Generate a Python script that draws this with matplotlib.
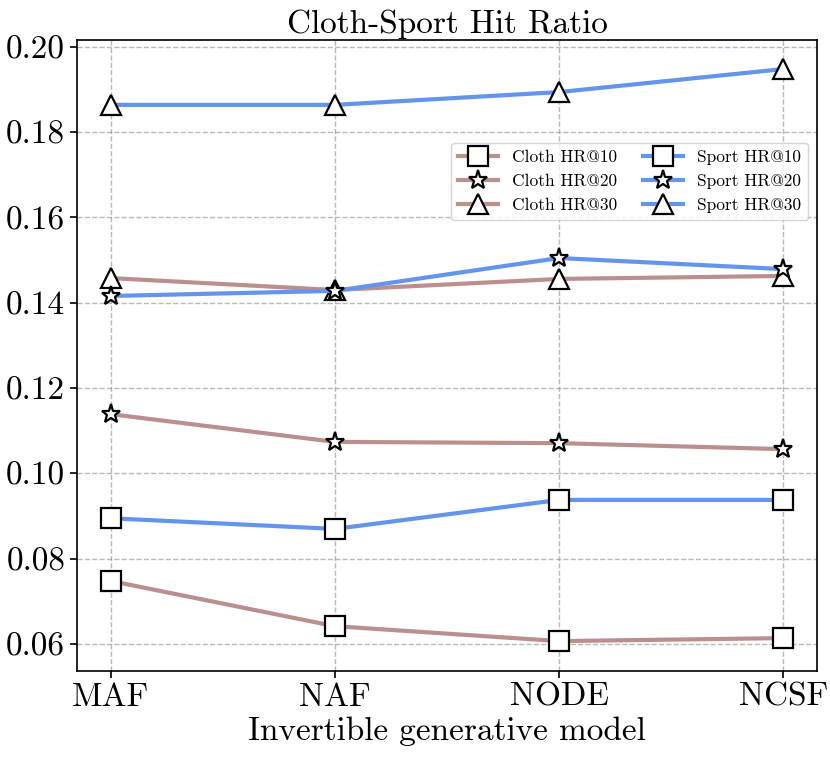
import matplotlib
matplotlib.use('Agg')
import matplotlib.pyplot as plt

models = ['MAF', 'NAF', 'NODE', 'NCSF']

cloth_hr10 = [0.0748, 0.0642, 0.0607, 0.0614]
cloth_hr20 = [0.1139, 0.1074, 0.1071, 0.1057]
cloth_hr30 = [0.1458, 0.1430, 0.1456, 0.1463]

sport_hr10 = [0.0895, 0.0870, 0.0938, 0.0938]
sport_hr20 = [0.1416, 0.1428, 0.1505, 0.1479]
sport_hr30 = [0.1864, 0.1864, 0.1894, 0.1948]

yticks = [0.06, 0.08, 0.10, 0.12, 0.14, 0.16, 0.18, 0.20]

plt.rcParams['font.family'] = ['cmr10', 'DejaVu Serif']
plt.rcParams['mathtext.fontset'] = 'cm'
plt.rcParams['axes.formatter.use_mathtext'] = True
plt.rcParams['font.size'] = 24

fig = plt.figure(figsize=(8.3, 7.61), dpi=100)
ax = fig.add_axes([0.0928, 0.1183, 0.8915, 0.8291])

cloth = 'rosybrown'
sport = 'cornflowerblue'
x = list(range(len(models)))


def line(y, label, colour, marker):
    ax.plot(x, y, label=label, color=colour, linewidth=3, marker=marker,
            markersize=14, markerfacecolor='white', markeredgecolor='black',
            markeredgewidth=1.6)


line(cloth_hr10, 'Cloth HR@10', cloth, 's')
line(cloth_hr20, 'Cloth HR@20', cloth, '*')
line(cloth_hr30, 'Cloth HR@30', cloth, '^')
line(sport_hr10, 'Sport HR@10', sport, 's')
line(sport_hr20, 'Sport HR@20', sport, '*')
line(sport_hr30, 'Sport HR@30', sport, '^')

ax.set_xlim(-0.15, 3.15)
ax.set_ylim(0.0537, 0.2016)
ax.set_xticks(x)
ax.set_xticklabels(models)
ax.set_yticks(yticks)
ax.set_yticklabels(['%.2f' % v for v in yticks])
ax.tick_params(length=5, width=1.2)
for s in ax.spines.values():
    s.set_linewidth(1.2)

ax.grid(True, linestyle='--', color='gray', alpha=0.55, linewidth=1)
ax.set_axisbelow(True)

ax.set_title('Cloth-Sport Hit Ratio', fontsize=24, pad=5)
ax.set_xlabel('Invertible generative model', fontsize=24, labelpad=3)

ax.legend(ncol=2, fontsize=12.5, loc='upper right',
          bbox_to_anchor=(0.988, 0.837), borderaxespad=0,
          handlelength=2.3, columnspacing=1.5, labelspacing=0.5)

fig.savefig('out.png', dpi=100)
